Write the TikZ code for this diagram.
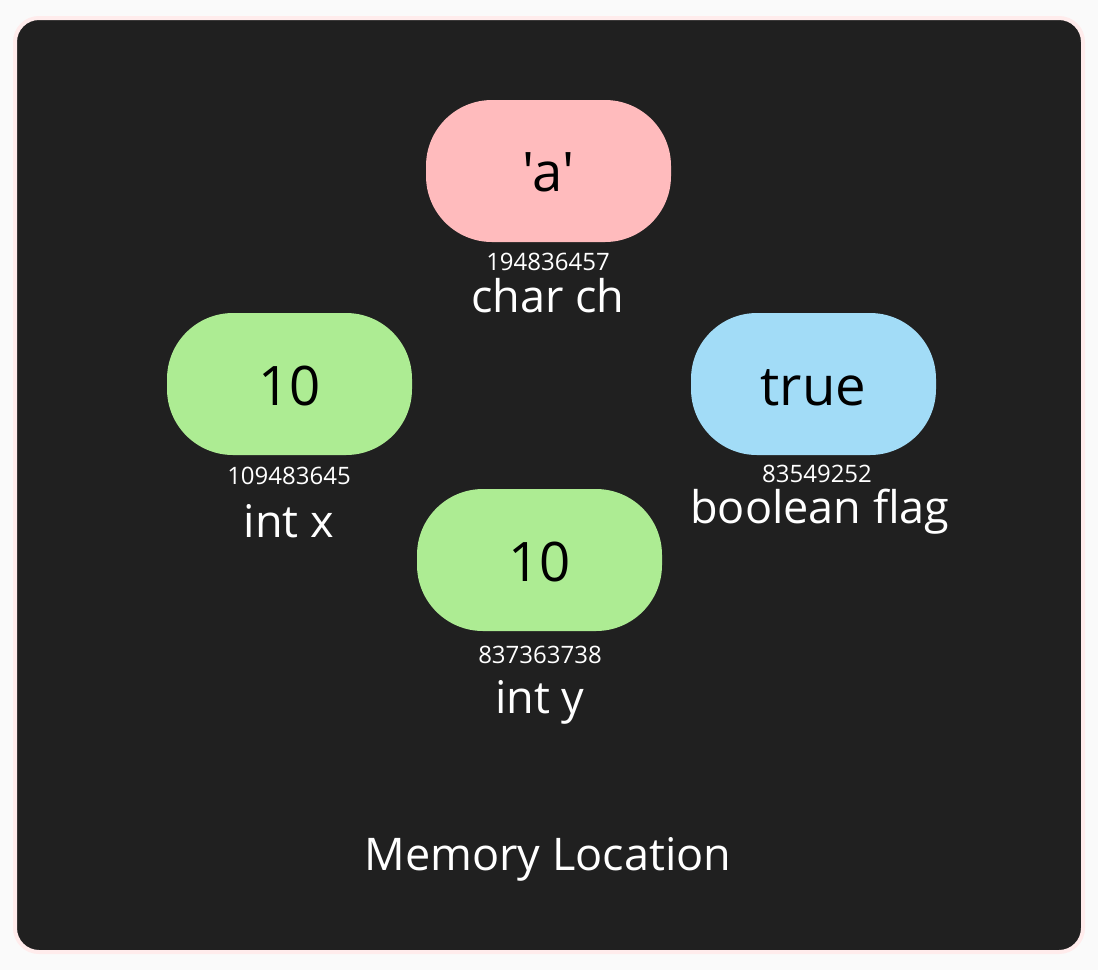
\documentclass[tikz,border=0pt]{standalone}
\usepackage{fontspec}
\setmainfont{Open Sans}
\newfontfamily\plainquotes{Open Sans}[Ligatures=TeXOff]
\definecolor{pagebg}{HTML}{FAFAFA}
\definecolor{panel}{HTML}{202020}
\definecolor{panelborder}{HTML}{FFECEC}
\definecolor{pinkfill}{HTML}{FFBBBD}
\definecolor{greenfill}{HTML}{ADEC93}
\definecolor{bluefill}{HTML}{A2DCF7}
\tikzset{
  pill/.style={rounded corners=66pt, minimum width=245pt, minimum height=142pt, inner sep=0pt},
  pilltext/.style={text=black, inner sep=0pt, anchor=base, font=\plainquotes\fontsize{54.5}{58}\selectfont},
  addr/.style={text=white, inner sep=0pt, anchor=base, font=\fontsize{24}{26}\selectfont},
  varname/.style={text=white, inner sep=0pt, anchor=base, font=\fontsize{45}{48}\selectfont},
}
\begin{document}
\begin{tikzpicture}[x=1pt,y=-1pt]
\fill[pagebg] (0,0) rectangle (1098,970);
\useasboundingbox (0,0) rectangle (1098,970);
\filldraw[fill=panel, draw=panelborder, line width=4pt, rounded corners=24pt] (15,18) rectangle (1083,952);

\node[pill, fill=pinkfill] (ch) at (548.5,171) {};
\node[pilltext] (chval) at (548.5,191) {'a'};
\node[addr] (chaddr) at (548,270) {194836457};
\node[varname] (chname) at (548,312) {char ch};

\node[pill, fill=greenfill] (x) at (289.5,384) {};
\node[pilltext] (xval) at (289.5,405) {10};
\node[addr] (xaddr) at (289,484) {109483645};
\node[varname] (xname) at (289,537) {int x};

\node[pill, fill=bluefill] (flag) at (813.5,384) {};
\node[pilltext] (flagval) at (813.5,405) {true};
\node[addr] (flagaddr) at (817,482) {83549252};
\node[varname] (flagname) at (820,523) {boolean flag};

\node[pill, fill=greenfill] (y) at (539.5,560) {};
\node[pilltext] (yval) at (539.5,581) {10};
\node[addr] (yaddr) at (540,663) {837363738};
\node[varname] (yname) at (540,713) {int y};

\node[varname] (title) at (548,870) {Memory Location};
\end{tikzpicture}
\end{document}
